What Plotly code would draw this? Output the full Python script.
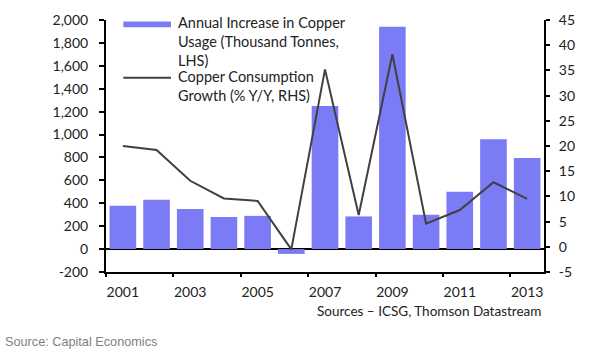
import plotly.graph_objects as go

years = list(range(2001, 2014))
usage_increase = [378, 430, 350, 280, 290, -42, 1250, 285, 1940, 300, 500, 960, 795]
consumption_growth = [20.0, 19.2, 13.1, 9.6, 9.1, -0.5, 35.2, 6.3, 38.2, 4.6, 7.3, 12.8, 9.5]

left_ticks = [-200, 0, 200, 400, 600, 800, 1000, 1200, 1400, 1600, 1800, 2000]
left_labels = ["-200", "0", "200", "400", "600", "800", "1,000", "1,200", "1,400", "1,600", "1,800", "2,000"]
right_ticks = [-5, 0, 5, 10, 15, 20, 25, 30, 35, 40, 45]
right_labels = ["-5", "0", "5", "10", "15", "20", "25", "30", "35", "40", "45"]
x_label_years = [2001, 2003, 2005, 2007, 2009, 2011, 2013]
x_tick_marks = [2000.5, 2002.5, 2004.5, 2006.5, 2008.5, 2010.5, 2012.5]

BAR = "#7B7BF6"
LINE = "#404040"
FONT = "Lato"

L, R, T, B = 106, 46, 19.5, 79.5
W, H = 590, 352
pw = W - L - R
ph = H - T - B


def px(x):
    return (x - L) / pw


def py(y):
    return (H - B - y) / ph


fig = go.Figure()
fig.add_trace(go.Bar(x=years, y=usage_increase, marker=dict(color=BAR, line=dict(width=0)),
                     width=0.79, name="Annual Increase in Copper Usage", yaxis="y"))
fig.add_trace(go.Scatter(x=years, y=consumption_growth, mode="lines",
                         line=dict(color=LINE, width=2), name="Copper Consumption Growth",
                         yaxis="y2"))
# invisible trace to carry the boundary tick-mark axis
fig.add_trace(go.Scatter(x=[2001], y=[0], xaxis="x2", yaxis="y", mode="markers",
                         marker=dict(opacity=0), showlegend=False, hoverinfo="skip"))

tickfont = dict(family=FONT, size=14, color="#222222")

fig.update_layout(
    width=W, height=H,
    margin=dict(l=L, r=R, t=T, b=B, pad=0),
    paper_bgcolor="white", plot_bgcolor="white",
    showlegend=False,
    xaxis=dict(range=[2000.5, 2013.5], tickmode="array", tickvals=x_label_years,
               ticktext=[str(y) for y in x_label_years], ticks="", showgrid=False,
               showline=True, linecolor="black", linewidth=2, tickfont=tickfont,
               ticklabelstandoff=6, zeroline=False),
    xaxis2=dict(range=[2000.5, 2013.5], overlaying="x", anchor="y", side="bottom",
                tickmode="array", tickvals=x_tick_marks, ticks="outside", ticklen=4,
                tickwidth=2, tickcolor="black", showticklabels=False, showgrid=False,
                showline=False, zeroline=False),
    yaxis=dict(range=[-200, 2000], tickmode="array", tickvals=left_ticks, ticktext=left_labels,
               ticks="outside", ticklen=5, tickwidth=2, tickcolor="black", showgrid=False,
               showline=True, linecolor="black", linewidth=2, tickfont=tickfont,
               zeroline=True, zerolinecolor="black", zerolinewidth=2, ticklabelstandoff=8),
    yaxis2=dict(range=[-5, 45], overlaying="y", side="right", tickmode="array",
                tickvals=right_ticks, ticktext=right_labels, ticks="outside", ticklen=4,
                tickwidth=2, tickcolor="black", showgrid=False, showline=True,
                linecolor="black", linewidth=2, tickfont=tickfont, zeroline=False,
                ticklabelstandoff=6),
)

# manual legend
fig.add_shape(type="rect", xref="paper", yref="paper", x0=px(123.3), x1=px(171),
              y0=py(26.7), y1=py(21), fillcolor=BAR, line=dict(width=0))
fig.add_shape(type="line", xref="paper", yref="paper", x0=px(123.3), x1=px(171),
              y0=py(77.5), y1=py(77.5), line=dict(color=LINE, width=2))
legfont = dict(family=FONT, size=14.5, color="#222222")
fig.add_annotation(xref="paper", yref="paper", x=px(176), y=py(41.5), xanchor="left",
                   yanchor="middle", align="left", showarrow=False, font=legfont,
                   text="Annual Increase in Copper<br>Usage (Thousand Tonnes,<br>LHS)")
fig.add_annotation(xref="paper", yref="paper", x=px(176), y=py(86), xanchor="left",
                   yanchor="middle", align="left", showarrow=False, font=legfont,
                   text="Copper Consumption<br>Growth (% Y/Y, RHS)")

fig.add_annotation(xref="paper", yref="paper", x=px(543), y=py(311.5), xanchor="right",
                   yanchor="middle", showarrow=False,
                   font=dict(family=FONT, size=13.5, color="#222222"),
                   text="Sources – ICSG, Thomson Datastream")
fig.add_annotation(xref="paper", yref="paper", x=px(3), y=py(342.5), xanchor="left",
                   yanchor="middle", showarrow=False,
                   font=dict(family="Liberation Sans", size=12.7, color="#808080"),
                   text="Source: Capital Economics")

fig.write_html("out.html")
